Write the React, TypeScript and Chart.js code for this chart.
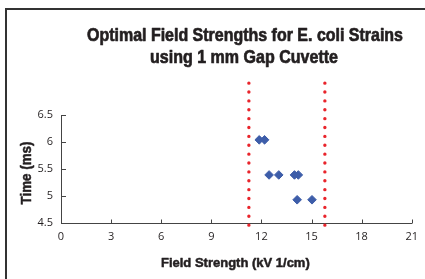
import React, { useEffect, useRef } from "react";
import { Chart, registerables } from "chart.js";

Chart.register(...registerables);

// ---- data ----
const strainFieldStrength = [11.87, 12.19, 12.46, 13.04, 13.98, 14.21, 14.14, 15.03];
const strainTime = [6.04, 6.04, 5.39, 5.39, 5.39, 5.39, 4.93, 4.93];
const lowerBoundField = 11.25;
const upperBoundField = 15.8;
const boundTimeTop = 7.09;
const boundTimeBottom = 4.46;
const titleLines = ["Optimal Field Strengths for E. coli Strains", "using 1 mm Gap Cuvette"];
const xAxisTitle = "Field Strength (kV 1/cm)";
const yAxisTitle = "Time (ms)";
const xMin = 0, xMax = 21, xStep = 3;
const yMin = 4.5, yMax = 6.5, yStep = 0.5;

const BOLDF = "'Liberation Sans', Arial, sans-serif";
const TICKF = "'Open Sans', 'Liberation Sans', sans-serif";
const TEXT_COLOR = "#231f20";

// draw condensed bold text (horizontally squeezed to a target width)
function condensedText(
  ctx: CanvasRenderingContext2D,
  text: string,
  size: number,
  targetWidth: number,
  cx: number,
  baseline: number,
  rotate = false,
  weightStroke = 0.6
) {
  ctx.save();
  ctx.font = `bold ${size}px ${BOLDF}`;
  ctx.fillStyle = TEXT_COLOR;
  ctx.strokeStyle = TEXT_COLOR;
  ctx.lineWidth = weightStroke;
  ctx.lineJoin = "round";
  ctx.textAlign = "center";
  ctx.textBaseline = "alphabetic";
  const w = ctx.measureText(text).width;
  const f = Math.min(1, targetWidth / w);
  if (rotate) {
    ctx.translate(baseline, cx);
    ctx.rotate(-Math.PI / 2);
  } else {
    ctx.translate(cx, baseline);
  }
  ctx.scale(f, 1);
  ctx.fillText(text, 0, 0);
  if (weightStroke > 0) ctx.strokeText(text, 0, 0);
  ctx.restore();
}

const framePlugin = {
  id: "frameAndTitle",
  beforeDraw(chart: any) {
    const ctx = chart.ctx;
    ctx.save();
    ctx.fillStyle = "#ffffff";
    ctx.fillRect(0, 0, chart.width, chart.height);
    ctx.fillStyle = "#333333";
    ctx.fillRect(5, 8, chart.width - 5, 2);
    ctx.fillRect(5, 8, 2, chart.height - 8);
    ctx.restore();
  },
  afterDraw(chart: any) {
    const ctx = chart.ctx;
    const { left, right, bottom } = chart.chartArea;
    // titles
    condensedText(ctx, titleLines[0], 19, 316, 245, 41, false, 0.7);
    condensedText(ctx, titleLines[1], 19, 188, 244, 63.3, false, 0.7);
    condensedText(ctx, xAxisTitle, 13, 150, (left + right) / 2 - 1, 266.5, false, 0.5);
    condensedText(ctx, yAxisTitle, 14.5, 63, 173, 30.7, true, 0.5);
    // inward tick marks
    ctx.save();
    ctx.strokeStyle = "#444444";
    ctx.lineWidth = 1;
    const xs = chart.scales.x;
    const ys = chart.scales.y;
    ctx.beginPath();
    xs.ticks.forEach((tk: any) => {
      const px = Math.round(xs.getPixelForValue(tk.value)) + 0.5;
      ctx.moveTo(px, Math.round(bottom) + 0.5);
      ctx.lineTo(px, Math.round(bottom) - 3.5);
    });
    ys.ticks.forEach((tk: any) => {
      const py = Math.round(ys.getPixelForValue(tk.value)) + 0.5;
      ctx.moveTo(Math.round(left) + 0.5, py);
      ctx.lineTo(Math.round(left) + 5, py);
    });
    ctx.stroke();
    ctx.restore();
  },
};

export default function App() {
  const ref = useRef<HTMLCanvasElement | null>(null);
  useEffect(() => {
    document.body.style.margin = "0";
    const canvas = ref.current!;
    const boundLine = (x: number) => ({
      type: "line" as const,
      data: [
        { x, y: boundTimeTop },
        { x, y: boundTimeBottom },
      ],
      borderColor: "#e9242b",
      borderWidth: 3.4,
      borderDash: [0, 8.875],
      borderCapStyle: "round" as const,
      pointRadius: 0,
      showLine: true,
      clip: false as any,
      order: 2,
    });
    const chart = new Chart(canvas, {
      type: "scatter",
      data: {
        datasets: [
          boundLine(lowerBoundField) as any,
          boundLine(upperBoundField) as any,
          {
            type: "scatter",
            data: strainFieldStrength.map((x, i) => ({ x, y: strainTime[i] })),
            pointStyle: "rectRot",
            pointRadius: 4.3,
            backgroundColor: "#3d5da9",
            borderColor: "#3d5da9",
            borderWidth: 1,
            order: 1,
          },
        ],
      },
      options: {
        animation: false,
        responsive: false,
        devicePixelRatio: 1,
        layout: { padding: { top: 115, right: 5, left: 0, bottom: 0 } },
        plugins: { legend: { display: false }, tooltip: { enabled: false }, title: { display: false } },
        scales: {
          x: {
            type: "linear",
            min: xMin,
            max: xMax,
            ticks: {
              stepSize: xStep,
              color: TEXT_COLOR,
              font: { family: TICKF, size: 11 },
              padding: 7,
              callback: (v: any) => String(v),
            },
            grid: { display: false, drawTicks: false },
            border: { display: true, color: "#444444", width: 1 },
            afterFit: (s: any) => { s.height = 56; },
          },
          y: {
            type: "linear",
            min: yMin,
            max: yMax,
            ticks: {
              stepSize: yStep,
              color: TEXT_COLOR,
              font: { family: TICKF, size: 11 },
              padding: 8,
              callback: (v: any) => String(v),
            },
            grid: { display: false, drawTicks: false },
            border: { display: true, color: "#444444", width: 1 },
            afterFit: (s: any) => { s.width = 61; },
          },
        },
      },
      plugins: [framePlugin],
    });
    return () => chart.destroy();
  }, []);
  return (
    <div style={{ width: 425, height: 279 }}>
      <canvas ref={ref} width={425} height={279} style={{ display: "block" }} />
    </div>
  );
}
